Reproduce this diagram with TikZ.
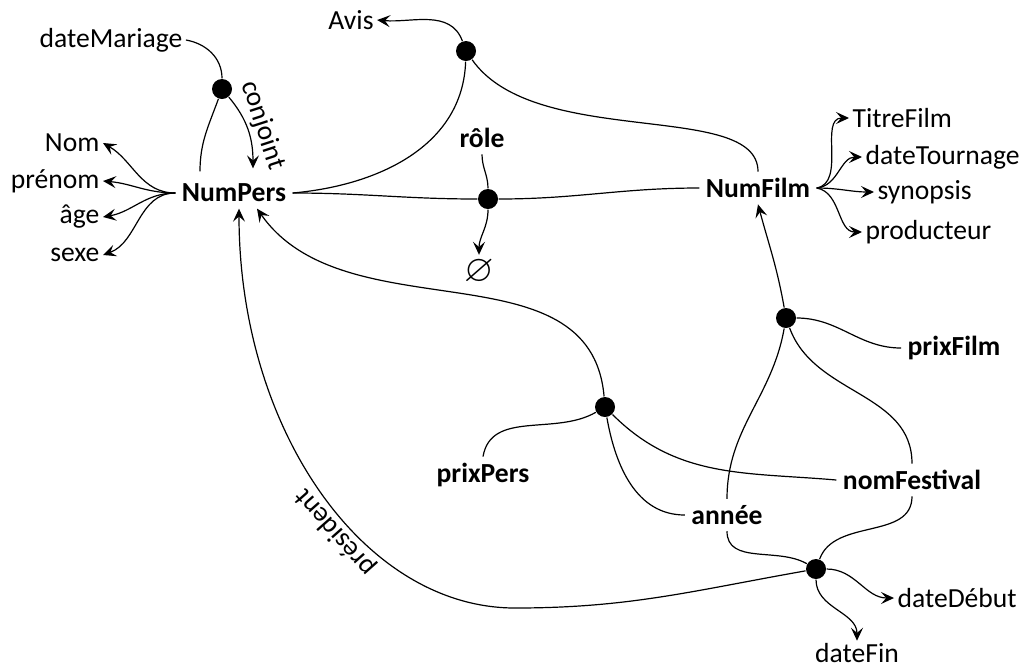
\documentclass[tikz,border=0pt]{standalone}
\usepackage{amssymb}
\usepackage{fontspec}
\setmainfont{Carlito}
\usetikzlibrary{arrows.meta}

\begin{document}
\begin{tikzpicture}[x=0.5pt, y=-0.5pt, line width=0.6pt,
    >={Stealth[length=6.5pt, width=6pt, inset=2.6pt]},
    every node/.style={font=\fontsize{13.8}{16}\selectfont}]
    \tikzstyle{attr} = [inner sep=1.5pt]
    \tikzstyle{ident} = [inner sep=3pt, font=\fontsize{13.8}{16}\selectfont\bfseries]
    \tikzstyle{hub} = [circle, fill, inner sep=0pt, minimum size=10pt]
    \useasboundingbox (0,0) rectangle (1026,671);

    % personnes
    \node [ident] at (234,193) (pers) {NumPers};
    \node [attr] at (111,40) (mariage) {dateMariage};
    \node [hub] at (222,89) (conj) {};
    \node [attr, anchor=east] at (103,143) (nom) {Nom};
    \node [attr, anchor=east] at (103,181) (prenom) {prénom};
    \node [attr, anchor=east] at (103,217) (age) {âge};
    \node [attr, anchor=east] at (103,255) (sexe) {sexe};

    % films
    \node [ident] at (758,188) (film) {NumFilm};
    \node [attr, anchor=west] at (849,118) (titre) {TitreFilm};
    \node [attr, anchor=west] at (862,157) (tournage) {dateTournage};
    \node [attr, anchor=west] at (874,192) (synopsis) {synopsis};
    \node [attr, anchor=west] at (862,232) (prod) {producteur};

    % avis, role
    \node [attr] at (351,20) (avis) {Avis};
    \node [hub] at (466,51) (davis) {};
    \node [ident] at (482,138) (role) {rôle};
    \node [hub] at (488,199) (drole) {};
    \node [attr, inner sep=0pt, font=\fontsize{19}{20}\selectfont] at (479,272) (vide) {$\varnothing$};

    % festivals
    \node [hub] at (786,318) (dfilm) {};
    \node [ident] at (954,348) (prixfilm) {prixFilm};
    \node [hub] at (605,407) (dpers) {};
    \node [ident] at (483,475) (prixpers) {prixPers};
    \node [ident] at (912,480) (festival) {nomFestival};
    \node [ident] at (727,515) (annee) {année};
    \node [hub] at (816,569) (dfest) {};
    \node [attr, anchor=west] at (894,598) (debut) {dateDébut};
    \node [attr, inner sep=1pt] at (857,653) (fin) {dateFin};
    \coordinate (bas) at (515,608);

    \draw (mariage.east) to[out=-10, in=90] (conj);
    \draw ([xshift=-17pt, yshift=3pt]pers.north) to[out=90, in=-110] (conj);
    \draw[->] (conj) to[out=-50, in=90] node[sloped, above, attr] {conjoint} ([xshift=9.5pt, yshift=4.5pt]pers.north);
    \draw[->] (pers.west) to[out=180, in=-30] (nom.east);
    \draw[->] (pers.west) to[out=180, in=-5] (prenom.east);
    \draw[->] (pers.west) to[out=180, in=10] (age.east);
    \draw[->] (pers.west) to[out=180, in=20] (sexe.east);

    \draw (pers.east) to[out=5, in=-92] (davis);
    \draw (davis) to[out=-55, in=90, out distance=55pt, in distance=36pt] (film.north);
    \draw[->] (davis) to[out=110, in=-5] (avis.east);

    \draw (pers.east) to[out=0, in=180] (drole);
    \draw (drole) to[out=0, in=180] (film.west);
    \draw (role.south) to[out=-90, in=90] (drole);
    \draw[->] (drole) to[out=-90, in=90] ([yshift=2pt]vide.north);

    \draw[->] (film.east) to[out=10, in=180] (titre.west);
    \draw[->] (film.east) to[out=5, in=180] (tournage.west);
    \draw[->] (film.east) to[out=0, in=180] (synopsis.west);
    \draw[->] (film.east) to[out=-10, in=180] (prod.west);

    \draw[->] (dfilm) to[out=100, in=-75] (film.south);
    \draw (prixfilm.west) to[out=180, in=0] (dfilm);
    \draw (annee.north) to[out=90, in=-100] (dfilm);
    \draw (festival.north) to[out=90, in=-70] (dfilm);

    \draw[->] (dpers) to[out=95, in=-55] ([xshift=11.5pt]pers.south);
    \draw (prixpers.north) to[out=80, in=-150] (dpers);
    \draw (dpers) to[out=-80, in=180] (annee.west);
    \draw (dpers) to[out=-45, in=175] (festival.west);

    \draw (annee.south) to[out=-90, in=150] (dfest);
    \draw (festival.south) to[out=-90, in=70] (dfest);
    \draw[->] (dfest) to[out=0, in=180] (debut.west);
    \draw[->] (dfest) to[out=-90, in=90] (fin.north);
    \draw[->] (dfest) to[out=190, in=0] (bas)
        to[out=180, in=-90, out distance=76pt, in distance=110pt]
        node[pos=0.42, sloped, allow upside down, above, inner sep=0.5pt] {président}
        ([xshift=2.5pt]pers.south);
\end{tikzpicture}
\end{document}
